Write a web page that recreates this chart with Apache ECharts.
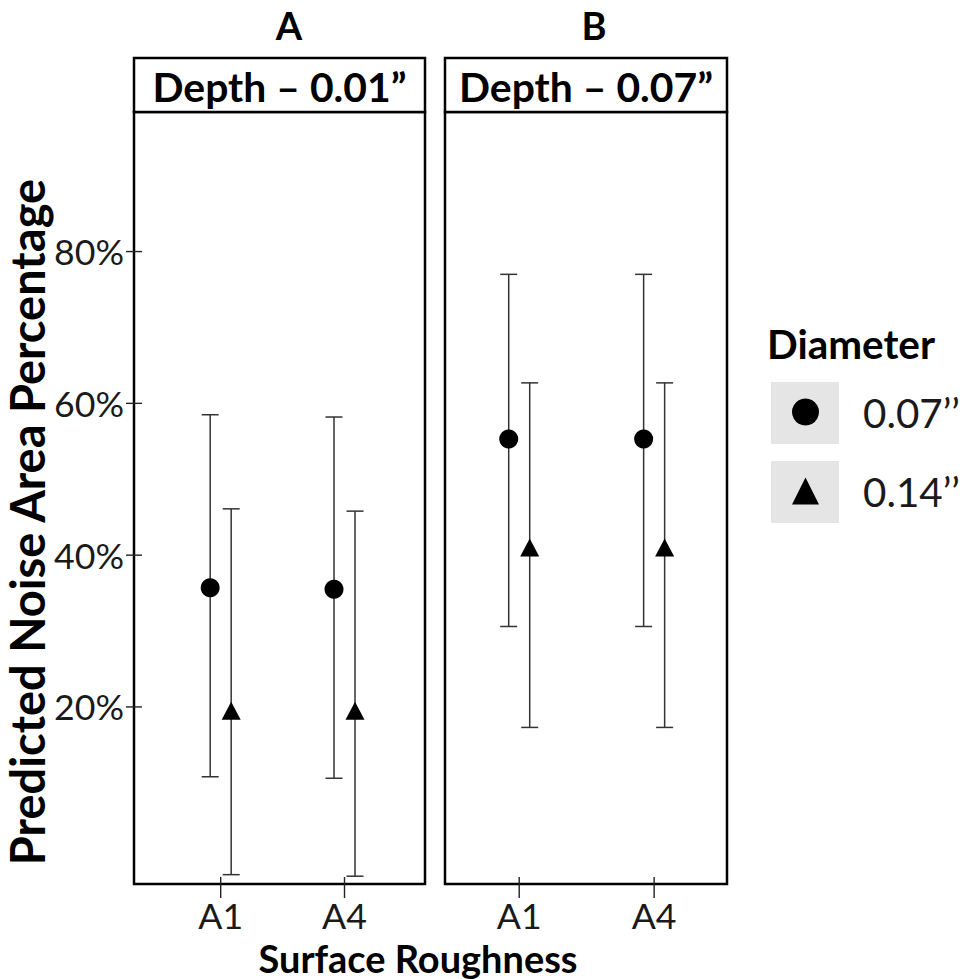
<!DOCTYPE html>
<html><head><meta charset="utf-8">
<script src="https://cdn.jsdelivr.net/npm/echarts@6/dist/echarts.min.js"></script>
<style>html,body{margin:0;padding:0;background:#fff}#c{width:967px;height:979px}</style>
</head><body><div id="c"></div>
<script>
// ---------- data ----------
const categories = ['A1', 'A4'];
const panelLetters = ['A', 'B'];
const panelTitles = ['Depth – 0.01”', 'Depth – 0.07”'];
const diameters = ['0.07’’', '0.14’’'];
const yTickValues = [20, 40, 60, 80];
const yTitle = 'Predicted Noise Area Percentage';
const xTitle = 'Surface Roughness';
const legendTitle = 'Diameter';

// Panel A (Depth 0.01")
const a_d007_est = [35.7, 35.5];
const a_d007_low = [10.8, 10.6];
const a_d007_high = [58.5, 58.2];
const a_d014_est = [19.5, 19.5];
const a_d014_low = [-2.1, -2.3];
const a_d014_high = [46.1, 45.8];
// Panel B (Depth 0.07")
const b_d007_est = [55.3, 55.3];
const b_d007_low = [30.6, 30.6];
const b_d007_high = [77.0, 77.0];
const b_d014_est = [41.0, 41.0];
const b_d014_low = [17.3, 17.3];
const b_d014_high = [62.7, 62.7];

// ---------- layout / style ----------
const FONT = 'Lato';
const ctx = document.createElement('canvas').getContext('2d');
function fit(text, weight, w) { ctx.font = weight + ' 100px ' + FONT; return 100 * w / ctx.measureText(text).width; }
const tickSize = fit('80%', 'normal', 70);
const legendLabelSize = fit(diameters[0], 'normal', 97);
const xTitleSize = fit(xTitle, 'bold', 319);
const yTitleSize = fit(yTitle, 'bold', 688);
const headerSize = fit(panelTitles[0], 'bold', 254);
const legendTitleSize = fit(legendTitle, 'bold', 168);
const letterSize = 38;

const grids = [
  { left: 134, top: 112, width: 291, height: 772 },
  { left: 445, top: 112, width: 282, height: 772 }
];
const xRanges = [[0.30, 2.65], [0.45, 2.54]];
const yMin = -3.33, yMax = 98.39;
const dodge = 10.5;
const ink = '#000';
const barColor = '#333';
const tickColor = '#222';

function errSeries(gi, name, low, high, off) {
  return {
    type: 'custom', name, xAxisIndex: gi, yAxisIndex: gi, silent: true, z: 2, clip: false,
    data: categories.map((c, i) => [i + 1, low[i], high[i]]),
    encode: { x: 0, y: [1, 2] },
    renderItem(params, api) {
      const x = api.value(0);
      const lo = api.coord([x, api.value(1)]);
      const hi = api.coord([x, api.value(2)]);
      const px = lo[0] + off, cap = 8.5;
      const st = { stroke: barColor, lineWidth: 1.5 };
      return { type: 'group', children: [
        { type: 'line', shape: { x1: px, y1: hi[1], x2: px, y2: lo[1] }, style: st },
        { type: 'line', shape: { x1: px - cap, y1: hi[1], x2: px + cap, y2: hi[1] }, style: st },
        { type: 'line', shape: { x1: px - cap, y1: lo[1], x2: px + cap, y2: lo[1] }, style: st }
      ] };
    }
  };
}
function ptSeries(gi, name, est, symbol, off) {
  return {
    type: 'scatter', name, xAxisIndex: gi, yAxisIndex: gi, z: 3, silent: true,
    symbol, symbolSize: symbol === 'circle' ? 19 : [19, 18], symbolOffset: [off, 0],
    itemStyle: { color: ink, opacity: 1 },
    data: categories.map((c, i) => [i + 1, est[i]])
  };
}
// tick marks crossing the panel border, placed through the axes' scales
function xTickSeries(gi) {
  return {
    type: 'custom', xAxisIndex: gi, yAxisIndex: gi, silent: true, z: 4, clip: false,
    data: categories.map((c, i) => [i + 1, 50]),
    encode: { x: 0, y: 1 },
    renderItem(params, api) {
      const p = api.coord([api.value(0), api.value(1)]);
      const yb = params.coordSys.y + params.coordSys.height;
      return { type: 'line', shape: { x1: p[0], y1: yb - 7, x2: p[0], y2: yb + 14 }, style: { stroke: tickColor, lineWidth: 1.4 } };
    }
  };
}
function yTickSeries(gi) {
  return {
    type: 'custom', xAxisIndex: gi, yAxisIndex: gi, silent: true, z: 4, clip: false,
    data: yTickValues.map(v => [1, v]),
    encode: { x: 0, y: 1 },
    renderItem(params, api) {
      const p = api.coord([api.value(0), api.value(1)]);
      const xl = params.coordSys.x;
      return { type: 'line', shape: { x1: xl - 8, y1: p[1], x2: xl + 8, y2: p[1] }, style: { stroke: tickColor, lineWidth: 1.4 } };
    }
  };
}

const xAxes = grids.map((g, gi) => ({
  type: 'value', gridIndex: gi, min: xRanges[gi][0], max: xRanges[gi][1],
  axisLine: { show: false }, splitLine: { show: false }, axisTick: { show: false },
  axisLabel: { customValues: [1, 2], formatter: v => categories[Math.round(v) - 1], fontFamily: FONT,
    fontSize: tickSize, color: '#1a1a1a', margin: 16, lineHeight: 30 }
}));
const yAxes = grids.map((g, gi) => ({
  type: 'value', gridIndex: gi, min: yMin, max: yMax,
  axisLine: { show: false }, splitLine: { show: false }, axisTick: { show: false },
  axisLabel: { show: gi === 0, customValues: yTickValues, formatter: v => v + '%', fontFamily: FONT,
    fontSize: tickSize, color: '#1a1a1a', margin: 10 },
  name: gi === 0 ? yTitle : '', nameLocation: 'middle', nameGap: 80,
  nameTextStyle: { fontFamily: FONT, fontWeight: 'bold', fontSize: yTitleSize, color: ink, padding: [0, 48, 0, 0] }
}));

const graphics = [];
grids.forEach((g, gi) => {
  graphics.push({ type: 'rect', shape: { x: g.left, y: 58, width: g.width, height: g.top - 58 },
    style: { fill: '#fff', stroke: ink, lineWidth: 2.5 }, z: 10 });
  graphics.push({ type: 'text', x: g.left + g.width / 2, y: 86, z: 11,
    style: { text: panelTitles[gi], font: `bold ${headerSize}px ${FONT}`, fill: ink, align: 'center', verticalAlign: 'middle' } });
});
graphics.push({ type: 'text', x: 289, y: 25, style: { text: panelLetters[0], font: `bold ${letterSize}px ${FONT}`, fill: ink, align: 'center', verticalAlign: 'middle' } });
graphics.push({ type: 'text', x: 594, y: 25, style: { text: panelLetters[1], font: `bold ${letterSize}px ${FONT}`, fill: ink, align: 'center', verticalAlign: 'middle' } });
graphics.push({ type: 'text', x: 418, y: 958, style: { text: xTitle, font: `bold ${xTitleSize}px ${FONT}`, fill: ink, align: 'center', verticalAlign: 'middle' } });
graphics.push({ type: 'text', x: 767, y: 343, style: { text: legendTitle, font: `bold ${legendTitleSize}px ${FONT}`, fill: ink, align: 'left', verticalAlign: 'middle' } });
graphics.push({ type: 'rect', shape: { x: 771, y: 382, width: 68, height: 62 }, style: { fill: '#e5e5e5' }, z: -1 });
graphics.push({ type: 'rect', shape: { x: 771, y: 461, width: 68, height: 62 }, style: { fill: '#e5e5e5' }, z: -1 });

const chart = echarts.init(document.getElementById('c'), null, { renderer: 'svg' });
chart.setOption({
  backgroundColor: '#fff',
  animation: false,
  grid: grids.map(g => ({ ...g, show: true, borderColor: ink, borderWidth: 2.5, backgroundColor: 'transparent' })),
  xAxis: xAxes,
  yAxis: yAxes,
  legend: {
    orient: 'vertical', left: 792, top: 392, padding: 0, itemWidth: 27, itemHeight: 27, itemGap: 39,
    selectedMode: false,
    data: [{ name: diameters[0], icon: 'circle' }, { name: diameters[1], icon: 'triangle' }],
    itemStyle: { color: ink },
    textStyle: { fontFamily: FONT, fontSize: legendLabelSize, color: '#1a1a1a', lineHeight: 40, padding: [0, 0, 0, 39] }
  },
  graphic: graphics,
  series: [
    errSeries(0, diameters[0], a_d007_low, a_d007_high, -dodge),
    errSeries(0, diameters[1], a_d014_low, a_d014_high, dodge),
    errSeries(1, diameters[0], b_d007_low, b_d007_high, -dodge),
    errSeries(1, diameters[1], b_d014_low, b_d014_high, dodge),
    ptSeries(0, diameters[0], a_d007_est, 'circle', -dodge),
    ptSeries(0, diameters[1], a_d014_est, 'triangle', dodge),
    ptSeries(1, diameters[0], b_d007_est, 'circle', -dodge),
    ptSeries(1, diameters[1], b_d014_est, 'triangle', dodge),
    xTickSeries(0), xTickSeries(1), yTickSeries(0)
  ]
});
</script></body></html>
